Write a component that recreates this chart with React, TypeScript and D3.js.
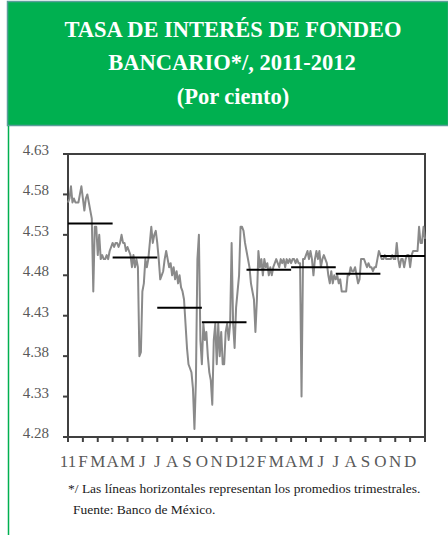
import React from 'react';
import * as d3 from 'd3';

// monthly tick labels, two years
const monthLabels = ['11', 'F', 'M', 'A', 'M', 'J', 'J', 'A', 'S', 'O', 'N', 'D',
  '12', 'F', 'M', 'A', 'M', 'J', 'J', 'A', 'S', 'O', 'N', 'D'];

const yTicks = [4.28, 4.33, 4.38, 4.43, 4.48, 4.53, 4.58, 4.63];

// tasa diaria (aprox. 10 observaciones por mes)
const rates2011 = [
  4.57, 4.575, 4.59, 4.57, 4.575, 4.57, 4.57, 4.57, 4.58, 4.59,
  4.575, 4.56, 4.575, 4.58, 4.57, 4.56, 4.55, 4.46, 4.54, 4.54,
  4.505, 4.53, 4.50, 4.505, 4.50, 4.50, 4.505, 4.50, 4.51, 4.515,
  4.52, 4.515, 4.52, 4.52, 4.515, 4.52, 4.53, 4.52, 4.52, 4.51,
  4.515, 4.51, 4.505, 4.49, 4.505, 4.49, 4.50, 4.49, 4.38, 4.385,
  4.46, 4.47, 4.50, 4.49, 4.50, 4.52, 4.54, 4.52, 4.53, 4.535,
  4.52, 4.50, 4.475, 4.48, 4.485, 4.50, 4.51, 4.50, 4.49, 4.495,
  4.48, 4.49, 4.475, 4.485, 4.47, 4.48, 4.465, 4.46, 4.45, 4.42,
  4.39, 4.37, 4.365, 4.36, 4.34, 4.29, 4.35, 4.50, 4.53, 4.40,
  4.37, 4.42, 4.40, 4.41, 4.38, 4.36, 4.35, 4.32, 4.40, 4.42,
  4.37, 4.42, 4.38, 4.41, 4.37, 4.37, 4.41, 4.42, 4.40, 4.42,
  4.52, 4.42, 4.39, 4.44, 4.46, 4.48, 4.54, 4.54, 4.535, 4.52,
];

const rates2012 = [
  4.51, 4.50, 4.49, 4.47, 4.46, 4.45, 4.41, 4.45, 4.51, 4.49,
  4.50, 4.48, 4.50, 4.49, 4.495, 4.48, 4.49, 4.48, 4.49, 4.495,
  4.50, 4.495, 4.49, 4.50, 4.495, 4.50, 4.49, 4.50, 4.495, 4.50,
  4.495, 4.50, 4.50, 4.495, 4.50, 4.495, 4.495, 4.33, 4.50, 4.50,
  4.505, 4.51, 4.50, 4.51, 4.50, 4.48, 4.50, 4.51, 4.50, 4.51,
  4.49, 4.50, 4.505, 4.50, 4.495, 4.48, 4.47, 4.485, 4.47, 4.48,
  4.475, 4.48, 4.47, 4.475, 4.46, 4.46, 4.46, 4.46, 4.48, 4.48,
  4.49, 4.485, 4.485, 4.49, 4.48, 4.47, 4.475, 4.50, 4.50, 4.50,
  4.495, 4.49, 4.495, 4.49, 4.49, 4.485, 4.49, 4.49, 4.50, 4.51,
  4.505, 4.50, 4.50, 4.505, 4.50, 4.50, 4.50, 4.50, 4.505, 4.50,
  4.50, 4.52, 4.50, 4.49, 4.50, 4.50, 4.49, 4.50, 4.505, 4.505,
  4.49, 4.505, 4.51, 4.51, 4.51, 4.51, 4.54, 4.52, 4.52, 4.54, 4.525,
];

// promedios trimestrales
const quarterAvg = [4.544, 4.502, 4.440, 4.422, 4.487, 4.490, 4.482, 4.504];

const W = 448;
const H = 535;
const green = '#00b050';
const frame = '#404040';
const serif = { fontFamily: "'Liberation Serif', 'DejaVu Serif', serif" };

export default function App() {
  const x = d3.scaleLinear().domain([0, 24]).range([68, 425]);
  const y = d3.scaleLinear().domain([4.28, 4.63]).range([437, 154]);

  const daily = rates2011.concat(rates2012);
  const line = d3.line<number>()
    .x((d, i) => x(i / 10))
    .y(d => y(d));

  return (
    <svg width={W} height={H} style={{ position: 'absolute', left: 0, top: 0, background: '#fff', ...serif }}>
      {/* encabezado */}
      <rect x={7.5} y={1.5} width={W - 7} height={124} fill={green} stroke="#5b9e9a" strokeWidth={1.5} />
      <line x1={8.5} x2={8.5} y1={126} y2={H} stroke={green} strokeWidth={1.5} />
      <g fill="#fff" fontWeight="bold" fontSize={22.5} textAnchor="middle" style={serif}>
        <text x={233} y={37}>TASA DE INTERÉS DE FONDEO</text>
        <text x={232} y={70}>BANCARIO*/, 2011-2012</text>
        <text x={233} y={104}>(Por ciento)</text>
      </g>

      {/* marco */}
      <rect x={x(0)} y={y(4.63)} width={x(24) - x(0)} height={y(4.28) - y(4.63)}
        fill="none" stroke={frame} strokeWidth={2} />

      {yTicks.map(t => (
        <g key={t}>
          <line x1={x(0) - 5} x2={x(0)} y1={y(t)} y2={y(t)} stroke={frame} strokeWidth={2} />
          <text x={49} y={y(t) + 1} textAnchor="end" fontSize={15} fill="#595959" style={serif}>
            {t.toFixed(2)}
          </text>
        </g>
      ))}

      {d3.range(25).map(i => (
        <line key={i} x1={x(i)} x2={x(i)} y1={y(4.28)} y2={y(4.28) + 5} stroke={frame} strokeWidth={2} />
      ))}
      {monthLabels.map((m, i) => (
        <text key={i} x={x(i)} y={467} textAnchor="middle" fontSize={17} fill="#595959" style={serif}>
          {m}
        </text>
      ))}

      <path d={line(daily) || ''} fill="none" stroke="#8a8a8a" strokeWidth={2} strokeLinejoin="round" />

      {quarterAvg.map((q, i) => (
        <line key={i} x1={x(i * 3)} x2={x(i * 3 + 3)} y1={y(q)} y2={y(q)} stroke="#000" strokeWidth={2} />
      ))}

      <g fontSize={13.5} fill="#1a1a1a" style={{ whiteSpace: 'pre', ...serif }}>
        <text x={68} y={493}>*/ Las líneas horizontales representan los promedios  trimestrales.</text>
        <text x={73} y={514}>Fuente:  Banco de México.</text>
      </g>
    </svg>
  );
}
